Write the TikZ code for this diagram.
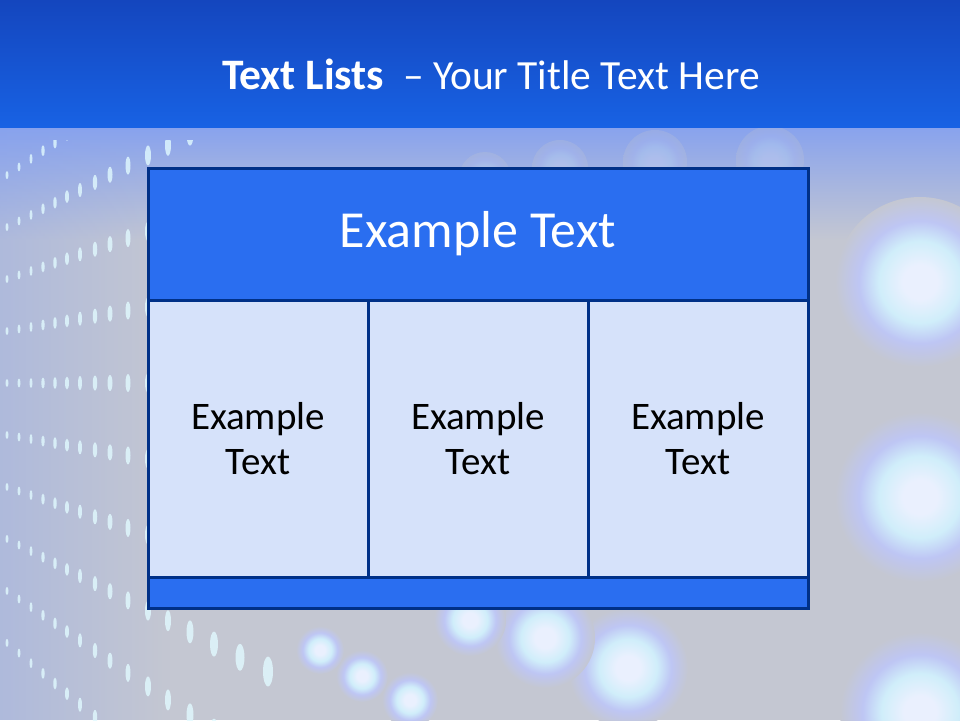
\documentclass[tikz,border=0pt]{standalone}
\usepackage{fontspec}
\setmainfont{Carlito}
\usepackage{tikz}
\usetikzlibrary{positioning,calc,fadings}
\definecolor{bandtop}{RGB}{20,70,190}
\definecolor{bandbot}{RGB}{24,98,228}
\definecolor{bgc}{RGB}{196,199,210}
\definecolor{fadeblue}{RGB}{135,162,238}
\definecolor{hdrblue}{RGB}{42,110,240}
\definecolor{cellblue}{RGB}{214,226,250}
\definecolor{edgeblue}{RGB}{0,48,135}
\definecolor{dotcyan}{RGB}{225,250,255}
\definecolor{glowwhite}{RGB}{234,240,254}
\definecolor{glowcyan}{RGB}{208,238,250}
\definecolor{glowrim}{RGB}{190,198,244}
\pgfdeclareradialshading{glowshade}{\pgfpoint{0bp}{0bp}}{%
  color(0bp)=(glowwhite); color(5bp)=(glowwhite); color(12bp)=(glowcyan);
  color(18bp)=(glowrim); color(25bp)=(bgc); color(50bp)=(bgc)}

\begin{document}
\begin{tikzpicture}[
  x=1pt, y=-1pt,
  every node/.style={inner sep=0pt, outer sep=0pt},
  tabbox/.style ={draw=edgeblue, line width=3pt, anchor=north west},
  headbox/.style={tabbox, fill=hdrblue, minimum width=660pt, minimum height=132pt},
  cellbox/.style={tabbox, fill=cellblue, minimum width=220pt, minimum height=277pt},
  footbox/.style={tabbox, fill=hdrblue, minimum width=660pt, minimum height=31pt},
  celltext/.style={align=center, font=\fontsize{39}{45}\selectfont},
  glow/.style={shading=glowshade}]

\useasboundingbox (0,0) rectangle (960,720);

% ---------------------------- background -----------------------------
\fill[bgc] (0,0) rectangle (960,720);
\shade[top color=fadeblue, bottom color=bgc] (0,125) rectangle (960,240);
\fill[fadeblue, opacity=0.35, path fading=east] (0,125) rectangle (170,720);

% small dots on the wall at the left, rows fanning out from the left
\begin{scope}
\clip (0,140) rectangle (300,720);
\foreach \x/\w/\h in {7/3/8,19/3/9,31/3/10,43/3.5/11,55/3.5/12,67/4/13,80/4/14,
                      95/4.5/15,110/5/16,128/5/18,148/6/20,168/6/21,190/7/23,
                      214/8/25,240/9/27,268/10/30}{%
  \foreach \k in {-4,...,5}{%
    \fill[dotcyan, opacity=0.8]
      (\x,{383+\k*(64/378)*(\x+300)}) ellipse ({\w/2} and {\h/2});}}
\end{scope}

% large blurred lights at the right and at the bottom
\foreach \cx/\cy/\r in {920/282/85,920/497/85,920/712/80,628/668/60,
                        545/638/50,470/620/36,410/700/28,362/676/26,320/650/24}{%
  \shade[glow] (\cx,\cy) circle (\r);}
\foreach \cx/\cy/\r in {485/178/26,560/168/28,655/162/32,770/160/34}{%
  \shade[glow, opacity=0.25] (\cx,\cy) circle (\r);}

% ---------------------------- title band -----------------------------
\shade[top color=bandtop, bottom color=bandbot] (0,0) rectangle (960,127);
\node[text=white, font=\fontsize{41.5}{50}\selectfont] (title) at (491,74)
  {{\fontsize{43.5}{50}\selectfont\bfseries Text Lists}\ \ – Your Title Text Here};

% ------------------------------ the table ----------------------------
\node[headbox] (head) at (148,168) {};
\node[cellbox] (cellA) at (148,300) {};
\node[cellbox] (cellB) at (368,300) {};
\node[cellbox] (cellC) at (588,300) {};
\node[footbox] (foot) at (148,577) {};

\node[text=white, font=\fontsize{52}{62}\selectfont] (headtext) at (head.center)
  {Example Text};

\foreach \c in {cellA,cellB,cellC}{%
  \node[celltext] (\c text) at (\c.center) {Example\\Text};}

\end{tikzpicture}
\end{document}
